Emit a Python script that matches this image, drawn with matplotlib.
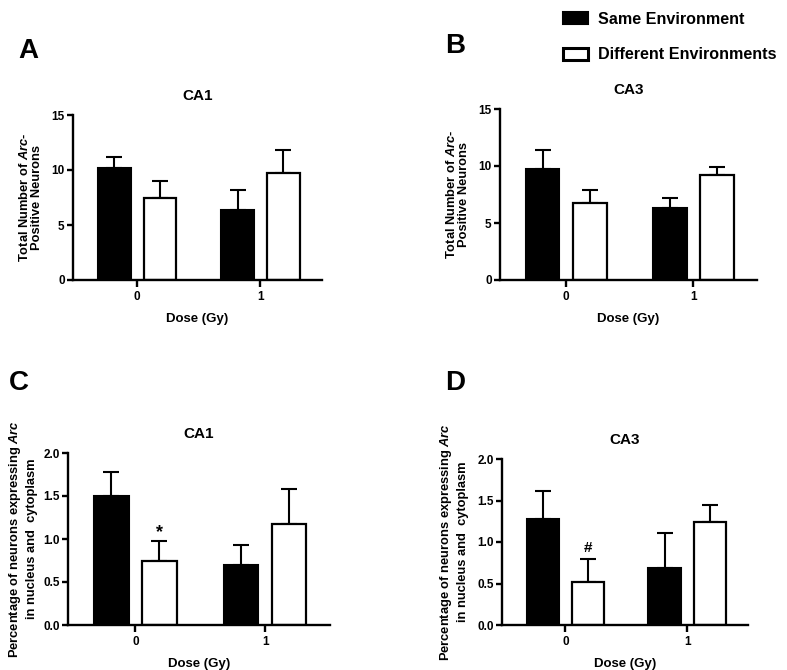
import matplotlib
matplotlib.use('Agg')
import matplotlib.pyplot as plt
from matplotlib.patches import Patch
import numpy as np

plt.rcParams['font.family'] = ['Liberation Sans', 'DejaVu Sans']
plt.rcParams['font.weight'] = 'bold'
plt.rcParams['mathtext.fontset'] = 'custom'
plt.rcParams['mathtext.rm'] = 'Liberation Sans:bold'
plt.rcParams['mathtext.it'] = 'Liberation Sans:italic:bold'

# data
doses = ['0', '1']
same_a = [10.2, 6.4]
same_a_err = [1.0, 1.8]
diff_a = [7.45, 9.7]
diff_a_err = [1.55, 2.1]

same_b = [9.7, 6.3]
same_b_err = [1.7, 0.9]
diff_b = [6.75, 9.2]
diff_b_err = [1.15, 0.7]

same_c = [1.50, 0.70]
same_c_err = [0.28, 0.23]
diff_c = [0.75, 1.18]
diff_c_err = [0.23, 0.40]

same_d = [1.28, 0.69]
same_d_err = [0.33, 0.42]
diff_d = [0.52, 1.24]
diff_d_err = [0.28, 0.21]

W, H = 787, 670
fig = plt.figure(figsize=(W / 100, H / 100), dpi=100)


def px_axes(left, right, top, bottom):
    return fig.add_axes([left / W, 1 - bottom / H, (right - left) / W, (bottom - top) / H])


def bar_panel(ax, same, same_err, diff, diff_err, title, ylim, yticks, ylabel, ylabel_size, ylabel_lsp, ylabel_pad):
    x = np.arange(len(doses))
    off = 0.185
    w = 0.265
    ax.bar(x - off, same, w, color='black', edgecolor='black', linewidth=1.5, zorder=2)
    ax.bar(x + off, diff, w, color='white', edgecolor='black', linewidth=1.6, zorder=2)
    ax.errorbar(x - off, same, yerr=[np.zeros(len(same)), same_err], fmt='none',
                ecolor='black', elinewidth=1.5, capsize=6, capthick=1.5, zorder=1)
    ax.errorbar(x + off, diff, yerr=[np.zeros(len(diff)), diff_err], fmt='none',
                ecolor='black', elinewidth=1.5, capsize=6, capthick=1.5, zorder=1)
    ax.set_xlim(-0.52, 1.5)
    ax.set_ylim(*ylim)
    ax.set_xticks(x)
    ax.set_xticklabels(doses)
    ax.set_yticks(yticks)
    ax.spines['top'].set_visible(False)
    ax.spines['right'].set_visible(False)
    for s in ['left', 'bottom']:
        ax.spines[s].set_linewidth(1.7)
    ax.spines['left'].set_zorder(3)
    ax.tick_params(axis='both', width=1.7, length=4, labelsize=8.5, pad=2)
    ax.tick_params(axis='x', length=5, pad=3)
    ax.set_title(title, fontsize=11, fontweight='bold', pad=11)
    ax.set_xlabel('Dose (Gy)', fontsize=9.5, fontweight='bold', labelpad=7)
    ax.set_ylabel(ylabel, fontsize=ylabel_size, fontweight='bold', labelpad=ylabel_pad,
                  linespacing=ylabel_lsp)


count_label = 'Total Number of $\\mathit{Arc}$-\nPositive Neurons'
pct_label = 'Percentage of neurons expressing $\\mathit{Arc}$\nin nucleus and  cytoplasm'

ax_a = px_axes(73, 322, 115, 280)
bar_panel(ax_a, same_a, same_a_err, diff_a, diff_a_err, 'CA1', (0, 15), [0, 5, 10, 15],
          count_label, 9.3, 1.05, 6)
ax_b = px_axes(500, 757, 109, 280)
bar_panel(ax_b, same_b, same_b_err, diff_b, diff_b_err, 'CA3', (0, 15), [0, 5, 10, 15],
          count_label, 9.3, 1.05, 6)
ax_c = px_axes(68, 330, 453, 625)
bar_panel(ax_c, same_c, same_c_err, diff_c, diff_c_err, 'CA1', (0, 2), [0, 0.5, 1.0, 1.5, 2.0],
          pct_label, 9.3, 1.3, 4)
ax_d = px_axes(502, 748, 459, 625)
bar_panel(ax_d, same_d, same_d_err, diff_d, diff_d_err, 'CA3', (0, 2), [0, 0.5, 1.0, 1.5, 2.0],
          pct_label, 9.3, 1.3, 6)
for ax in [ax_c, ax_d]:
    ax.set_yticklabels(['0.0', '0.5', '1.0', '1.5', '2.0'])

# significance markers
ax_c.text(0.185, diff_c[0] + diff_c_err[0] + 0.1, '*', ha='center', va='center',
          fontsize=13, fontweight='bold')
ax_d.text(0.185, diff_d[0] + diff_d_err[0] + 0.13, '#', ha='center', va='center',
          fontsize=11, fontweight='bold')

# panel letters
fig.text(28 / W, 1 - 51 / H, 'A', fontsize=20, fontweight='bold', ha='center', va='center')
fig.text(455 / W, 1 - 46 / H, 'B', fontsize=20, fontweight='bold', ha='center', va='center')
fig.text(19 / W, 1 - 383 / H, 'C', fontsize=20, fontweight='bold', ha='center', va='center')
fig.text(455 / W, 1 - 383 / H, 'D', fontsize=20, fontweight='bold', ha='center', va='center')

handles = [Patch(facecolor='black', edgecolor='black', linewidth=1.5),
           Patch(facecolor='white', edgecolor='black', linewidth=2.2)]
fig.legend(handles, ['Same Environment', 'Different Environments'],
           loc='upper left', bbox_to_anchor=(548 / W, 1 - (-3) / H), frameon=False,
           prop={'size': 11.6, 'weight': 'bold'}, handlelength=1.6, handleheight=0.8,
           handletextpad=0.6, labelspacing=1.3)

fig.savefig('out.png', dpi=100)
